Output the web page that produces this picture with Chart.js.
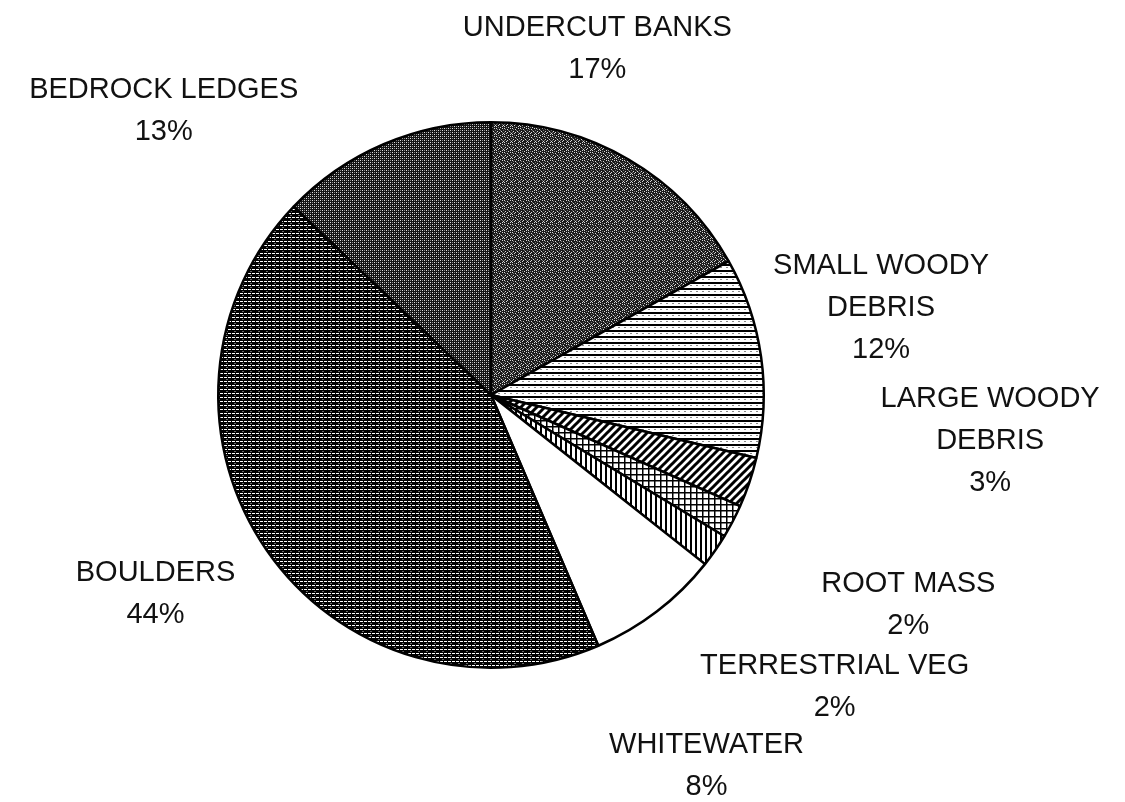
<!DOCTYPE html>
<html>
<head>
<meta charset="utf-8">
<script src="https://cdn.jsdelivr.net/npm/chart.js@4.4.1/dist/chart.umd.min.js"></script>
<style>
  body { margin: 0; background: #fff; }
  canvas { display: block; }
</style>
</head>
<body>
<canvas id="cover" width="1125" height="802"></canvas>
<script>
// habitat cover types, clockwise from 12 o'clock
const categories = [
    ['UNDERCUT BANKS'],
    ['SMALL WOODY', 'DEBRIS'],
    ['LARGE WOODY', 'DEBRIS'],
    ['ROOT MASS'],
    ['TERRESTRIAL VEG'],
    ['WHITEWATER'],
    ['BOULDERS'],
    ['BEDROCK LEDGES']
];
const percents = [17, 12, 3, 2, 2, 8, 44, 13];

// label anchor offsets, in units of the pie radius from its centre
const labelDx = [0.39, 1.43, 1.83, 1.53, 1.26, 0.79, -1.23, -1.20];
const labelDy = [-1.27, -0.32, 0.17, 0.77, 1.07, 1.36, 0.73, -1.04];

const ctx = document.getElementById('cover').getContext('2d');

function tile(w, h, draw) {
    const c = document.createElement('canvas');
    c.width = w; c.height = h;
    const g = c.getContext('2d');
    draw(g, w, h);
    return ctx.createPattern(c, 'repeat');
}

// undercut banks - dark stipple
const undercut = tile(8, 8, (g) => {
    g.fillStyle = '#1c1c1c'; g.fillRect(0, 0, 8, 8);
    const pts = [[0,0],[3,1],[6,0],[1,3],[5,3],[2,5],[7,5],[0,6],[4,7],[6,6],[3,4]];
    g.fillStyle = '#d8d8d8';
    pts.forEach(p => g.fillRect(p[0], p[1], 1, 1));
    g.fillStyle = '#777';
    [[1,1],[7,2],[4,2],[6,4],[2,7],[0,4]].forEach(p => g.fillRect(p[0], p[1], 1, 1));
});
// small woody debris - horizontal lines
const smallWoody = tile(6, 6, (g) => {
    g.fillStyle = '#fff'; g.fillRect(0, 0, 6, 6);
    g.fillStyle = '#000'; g.fillRect(0, 0, 6, 2);
    g.fillStyle = '#888'; g.fillRect(0, 3, 2, 1);
});
// large woody debris - diagonal hatch
const largeWoody = tile(8, 8, (g) => {
    g.fillStyle = '#fff'; g.fillRect(0, 0, 8, 8);
    g.strokeStyle = '#000'; g.lineWidth = 3;
    g.beginPath();
    g.moveTo(-2, 10); g.lineTo(10, -2);
    g.moveTo(-2, 2); g.lineTo(2, -2);
    g.moveTo(6, 10); g.lineTo(10, 6);
    g.stroke();
});
// root mass - cross hatch
const rootMass = tile(6, 6, (g) => {
    g.fillStyle = '#fff'; g.fillRect(0, 0, 6, 6);
    g.fillStyle = '#000';
    g.fillRect(0, 0, 6, 1.5);
    g.fillRect(0, 0, 1.5, 6);
});
// terrestrial veg - vertical lines
const terrVeg = tile(5, 5, (g) => {
    g.fillStyle = '#fff'; g.fillRect(0, 0, 5, 5);
    g.fillStyle = '#000'; g.fillRect(0, 0, 2, 5);
});
// boulders - dense dark horizontal lines
const boulders = tile(8, 4, (g) => {
    g.fillStyle = '#000'; g.fillRect(0, 0, 8, 4);
    g.fillStyle = '#fff';
    g.fillRect(0, 1, 3, 1); g.fillRect(4, 1, 3, 1);
    g.fillStyle = '#666'; g.fillRect(2, 3, 2, 1);
});
// bedrock ledges - checker stipple
const bedrock = tile(4, 4, (g) => {
    g.fillStyle = '#141414'; g.fillRect(0, 0, 4, 4);
    g.fillStyle = '#e0e0e0';
    g.fillRect(0, 0, 1, 1); g.fillRect(2, 2, 1, 1);
    g.fillStyle = '#8a8a8a';
    g.fillRect(2, 0, 1, 1); g.fillRect(0, 2, 1, 1);
});

const fills = [undercut, smallWoody, largeWoody, rootMass, terrVeg, '#ffffff', boulders, bedrock];

const outsideLabels = {
    id: 'outsideLabels',
    afterDraw(chart) {
        const arc = chart.getDatasetMeta(0).data[0];
        const cx = arc.x, cy = arc.y, r = arc.outerRadius;
        const c = chart.ctx;
        c.save();
        c.font = '29px "Liberation Sans", Arial, sans-serif';
        c.fillStyle = '#111';
        c.textAlign = 'center';
        c.textBaseline = 'middle';
        const lh = 42;
        categories.forEach((name, i) => {
            const lines = name.concat([percents[i] + '%']);
            const x = cx + labelDx[i] * r;
            const y0 = cy + labelDy[i] * r - (lines.length - 1) * lh / 2;
            lines.forEach((t, j) => c.fillText(t, x, y0 + j * lh));
        });
        c.restore();
    }
};

new Chart(ctx, {
    type: 'pie',
    data: {
        labels: categories,
        datasets: [{
            data: percents,
            backgroundColor: fills,
            borderColor: '#000',
            borderWidth: 2.5
        }]
    },
    options: {
        responsive: false,
        animation: false,
        layout: { padding: { left: 217, right: 360, top: 121, bottom: 133 } },
        plugins: {
            legend: { display: false },
            tooltip: { enabled: false }
        }
    },
    plugins: [outsideLabels]
});
</script>
</body>
</html>
